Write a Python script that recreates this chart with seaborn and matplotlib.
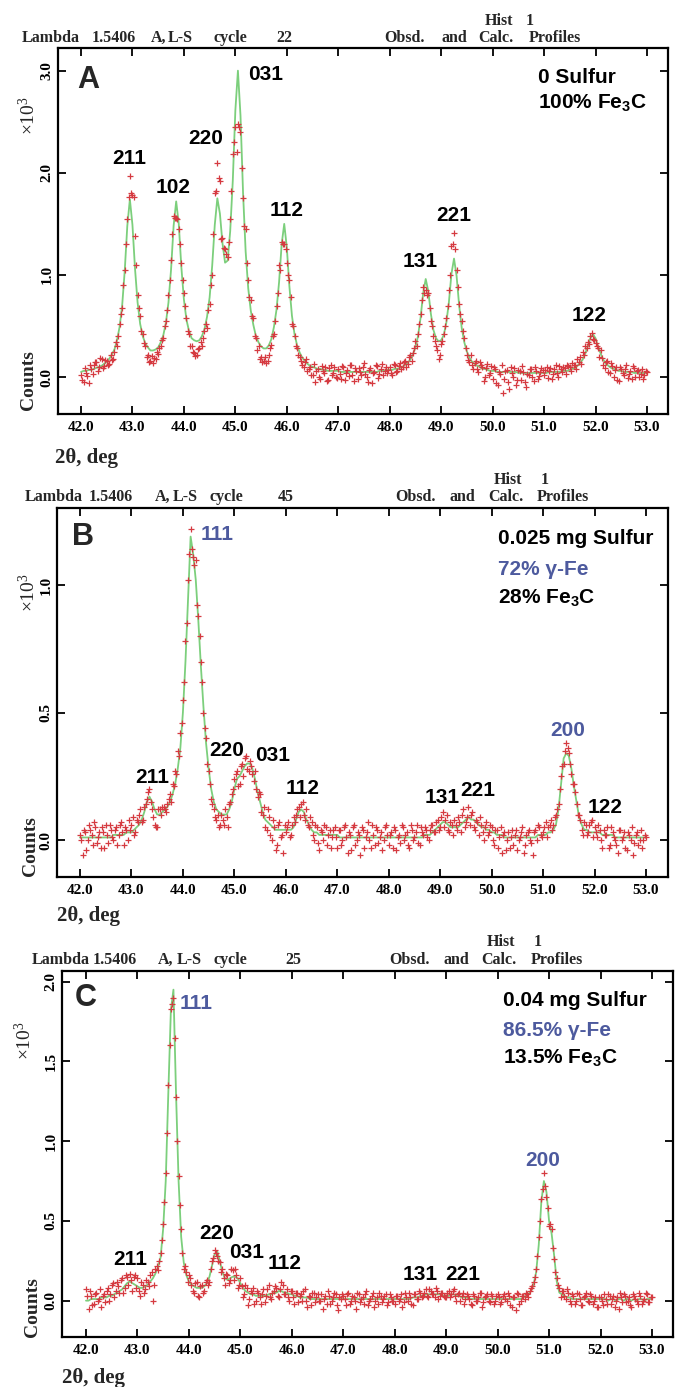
import numpy as np
import pandas as pd
import matplotlib
matplotlib.use("Agg")
import matplotlib.pyplot as plt
import seaborn as sns

# ---------------- data (intensity in units of 10^3 counts) ----------------
two_theta = np.round(42.0 + 0.05 * np.arange(221), 3)       # calc + observed grid
two_theta_mid = np.round(42.025 + 0.05 * np.arange(220), 3)  # observed, interleaved

calc_A = [
    .05, .06, .06, .07, .07, .08, .09, .10, .11, .13, .15, .18, .22, .27, .36, .49, .70, 1.04, 1.48, 1.74,
    1.49, 1.06, .73, .52, .40, .33, .29, .26, .26, .27, .29, .34, .41, .53, .73, 1.05, 1.48, 1.72, 1.50, 1.08,
    .76, .56, .45, .38, .36, .35, .36, .40, .47, .59, .78, 1.09, 1.49, 1.75, 1.60, 1.31, 1.12, 1.14, 1.43, 1.92,
    2.61, 3.00, 2.56, 1.80, 1.23, .87, .65, .51, .40, .34, .30, .28, .28, .31, .37, .49, .66, .93, 1.30, 1.50,
    1.27, .89, .60, .42, .31, .24, .19, .16, .13, .11, .10, .09, .08, .08, .07, .07, .06, .06, .06, .06,
    .06, .05, .05, .05, .05, .05, .05, .05, .05, .05, .05, .05, .05, .05, .05, .05, .06, .06, .06, .07,
    .07, .07, .08, .08, .09, .10, .12, .14, .17, .22, .29, .40, .58, .82, .96, .84, .62, .46, .38, .35,
    .36, .41, .53, .73, 1.01, 1.16, .99, .70, .48, .34, .25, .19, .15, .13, .11, .10, .08, .08, .07, .06,
    .06, .06, .05, .05, .05, .05, .05, .05, .05, .05, .04, .04, .04, .04, .04, .04, .04, .04, .04, .04,
    .04, .04, .05, .05, .05, .05, .05, .06, .06, .06, .07, .08, .09, .11, .14, .17, .23, .30, .38, .42,
    .38, .30, .23, .17, .13, .11, .09, .08, .07, .06, .06, .05, .05, .05, .05, .04, .04, .04, .04, .04,
    .04]
obs_A = [
    .02, -.05, .04, -.06, .08, .12, .15, .10, .18, .11, .16, .13, .17, .25, .30, .52, .68, 1.05, 1.55, 1.97,
    1.78, 1.38, .80, .60, .42, .30, .22, .16, .14, .18, .23, .30, .38, .55, .80, 1.15, 1.58, 1.56, 1.45, 1.12,
    .82, .58, .42, .30, .24, .22, .28, .30, .45, .48, .72, 1.00, 1.80, 2.10, 1.92, 1.36, 1.25, 1.18, 1.55, 2.18,
    2.45, 2.48, 2.40, 1.75, 1.45, .95, .75, .58, .38, .30, .20, .16, .14, .22, .31, .42, .70, 1.10, 1.32, 1.30,
    1.12, .95, .52, .40, .28, .20, .12, .15, .06, .10, .02, -.05, .08, -.02, .06, .10, -.03, .12, .04, .00,
    .08, -.02, .10, .04, .01, .12, -.04, .06, .09, .02, .14, .00, .07, -.06, .05, .11, .03, .13, .06, .04,
    .10, .02, .12, .06, .14, .10, .16, .13, .22, .24, .35, .42, .62, .88, .85, .82, .55, .40, .30, .18,
    .32, .42, .58, .85, 1.28, 1.41, 1.05, .72, .55, .38, .22, .15, .12, .14, .08, .15, .10, .00, .13, .04,
    -.02, .08, -.08, .03, -.16, .06, -.05, .10, .00, -.08, .07, -.03, .05, -.10, .02, .08, -.04, .06, .01, .09,
    .02, .10, .06, -.02, .08, .04, .11, .05, .09, .12, .10, .14, .12, .18, .20, .25, .30, .34, .40, .37,
    .33, .28, .26, .12, .15, .05, .14, .00, .10, -.04, .08, .02, .12, .03, -.02, .09, .06, .00, .08, .02,
    .05]
obs_mid_A = [
    -.03, .09, .01, .12, .03, .15, .06, .19, .09, .17, .12, .22, .18, .34, .40, .62, .90, 1.30, 1.76, 1.80,
    1.76, 1.10, .68, .45, .33, .20, .15, .21, .19, .25, .28, .36, .50, .66, .95, 1.40, 1.56, 1.55, 1.30, .95,
    .70, .45, .30, .25, .21, .27, .34, .38, .52, .66, .90, 1.40, 1.82, 1.95, 1.35, 1.26, 1.20, 1.32, 1.82, 2.30,
    2.20, 2.45, 2.05, 1.48, 1.12, .78, .60, .40, .26, .18, .15, .20, .16, .28, .40, .55, .82, 1.05, 1.30, 1.25,
    1.00, .78, .50, .30, .22, .16, .10, .18, .08, .02, .13, .06, .00, .11, .04, -.04, .09, .02, .10, -.01,
    .03, .11, -.03, .07, .12, .02, .09, -.02, .05, .10, .03, -.05, .09, .04, .12, -.01, .08, .02, .10, .07,
    .04, .13, .05, .11, .08, .15, .10, .20, .16, .28, .30, .52, .75, .82, .80, .68, .50, .35, .26, .22,
    .35, .50, .70, 1.00, 1.30, 1.25, .88, .62, .45, .28, .17, .22, .08, .16, .05, .12, -.04, .09, .02, .11,
    .10, -.06, .05, .12, -.02, .07, -.12, .04, .09, -.03, .06, .11, -.05, .03, .08, .00, .10, -.02, .05, .07,
    .07, -.01, .09, .03, .12, .00, .08, .10, .03, .11, .06, .12, .08, .15, .13, .22, .28, .32, .43, .36,
    .30, .20, .19, .09, .16, .04, .11, .07, -.03, .10, .04, .08, -.01, .06, .11, .00, .07, .03, -.02, .06]

calc_B = [
    .01, .01, .01, .01, .01, .01, .01, .01, .01, .01, .01, .01, .01, .02, .02, .02, .02, .02, .03, .03,
    .03, .04, .05, .06, .08, .11, .15, .17, .15, .12, .10, .10, .11, .12, .13, .15, .18, .22, .28, .36,
    .50, .70, .95, 1.19, 1.12, 1.02, .86, .68, .52, .38, .28, .20, .15, .12, .11, .10, .10, .10, .12, .15,
    .20, .24, .25, .27, .29, .30, .30, .28, .24, .19, .15, .11, .08, .07, .06, .05, .04, .04, .04, .04,
    .04, .04, .04, .05, .08, .11, .12, .11, .08, .06, .04, .03, .03, .02, .02, .02, .02, .02, .02, .02,
    .02, .01, .01, .01, .01, .01, .01, .01, .01, .01, .01, .01, .01, .01, .01, .01, .01, .01, .01, .01,
    .01, .01, .01, .01, .01, .01, .01, .01, .01, .01, .01, .01, .01, .01, .02, .02, .02, .03, .04, .05,
    .06, .07, .07, .06, .05, .05, .05, .05, .06, .07, .08, .09, .08, .08, .07, .06, .05, .05, .04, .04,
    .03, .03, .02, .02, .02, .01, .01, .01, .01, .01, .01, .01, .01, .01, .01, .01, .01, .01, .02, .02,
    .02, .02, .03, .03, .04, .06, .12, .22, .32, .34, .33, .28, .21, .15, .09, .06, .04, .04, .03, .03,
    .03, .03, .03, .02, .02, .02, .02, .02, .01, .01, .01, .01, .01, .01, .01, .01, .01, .01, .01, .01,
    .01]
obs_B = [
    .02, -.06, .03, .00, .04, -.02, .05, .01, -.03, .03, .06, -.01, .04, .00, .05, .02, .07, -.02, .04, .08,
    .06, .02, .08, .10, .07, .13, .16, .20, .12, .06, .05, .12, .13, .12, .14, .18, .22, .27, .35, .42,
    .55, .78, 1.02, 1.22, 1.11, 1.10, .88, .70, .50, .40, .27, .16, .12, .08, .05, .10, .06, .09, .14, .18,
    .24, .27, .22, .30, .32, .28, .31, .26, .27, .17, .18, .10, .05, .12, .02, .08, -.04, .06, .01, -.05,
    .03, .07, .02, .09, .10, .13, .14, .10, .12, .05, .07, .00, .05, -.04, .03, .06, -.02, .04, .01, .05,
    -.03, .04, .00, .06, -.05, .02, .05, -.02, .03, -.06, .04, .01, .07, -.03, .02, .05, -.01, .03, .00, .06,
    -.02, .03, .05, -.04, .02, .06, .00, .03, -.03, .04, .01, .06, -.02, .03, .05, .01, .04, .06, .03, .08,
    .05, .11, .08, .04, .07, .02, .06, .09, .03, .12, .07, .13, .10, .05, .08, .02, .06, .00, .07, .03,
    .05, -.02, .04, .01, -.05, .03, .00, -.03, .04, .02, -.04, .01, .05, -.02, .03, .00, -.06, .04, .06, .02,
    .03, .07, .05, .08, .06, .10, .14, .25, .30, .38, .34, .26, .22, .14, .10, .04, .07, .02, .06, .08,
    .05, .01, .04, -.03, .02, .05, -.02, .03, .00, -.05, .04, .01, -.03, .03, .00, -.06, .02, -.02, .04, .00,
    .01]
obs_mid_B = [
    .00, .04, -.04, .06, .02, .07, -.01, .03, .05, -.03, .02, .06, .01, .04, -.02, .06, .03, .05, .00, .04,
    .09, .03, .07, .12, .08, .14, .19, .15, .09, .05, .12, .10, .13, .11, .16, .15, .21, .26, .33, .46,
    .62, .85, 1.12, 1.14, 1.08, .92, .80, .62, .44, .30, .22, .14, .09, .10, .06, .08, .12, .05, .15, .20,
    .26, .21, .29, .25, .33, .27, .29, .23, .20, .19, .11, .13, .04, .09, .00, .05, -.02, .07, .02, .06,
    .05, .01, .06, .07, .12, .09, .15, .08, .06, .09, .02, .06, -.01, .04, .00, .05, .02, -.03, .04, .01,
    .04, -.02, .05, .01, .03, -.04, .06, .00, .02, .05, -.03, .03, .00, .06, -.02, .04, .01, -.04, .05, .02,
    .02, -.03, .04, .01, -.01, .05, .02, -.02, .06, .00, .03, -.01, .05, .02, .04, .00, .06, .03, .07, .04,
    .09, .05, .10, .03, .06, .08, .04, .07, .10, .05, .09, .06, .11, .04, .07, .09, .03, .05, .02, .06,
    .00, .04, -.03, .05, .02, -.04, .03, .01, -.02, .04, .00, .03, -.05, .02, .04, -.01, .03, .00, .05, .01,
    .05, .01, .06, .04, .09, .12, .20, .29, .35, .36, .30, .22, .19, .10, .08, .02, .06, .03, .07, .01,
    .03, .06, .00, .04, .02, -.03, .05, .01, -.02, .04, .00, .03, -.04, .02, .05, -.01, .03, .00, -.03, .02]

calc_C = [
    .00, .00, .01, .01, .01, .01, .02, .02, .02, .03, .03, .04, .05, .06, .07, .09, .11, .12, .11, .10,
    .09, .08, .08, .09, .10, .12, .14, .17, .21, .27, .45, .75, 1.30, 1.82, 1.95, 1.30, .75, .40, .24, .16,
    .12, .10, .09, .08, .08, .08, .09, .11, .15, .22, .29, .31, .25, .18, .14, .13, .14, .15, .15, .14,
    .11, .08, .06, .05, .04, .04, .03, .03, .03, .03, .03, .04, .04, .05, .05, .06, .06, .05, .05, .04,
    .04, .03, .03, .02, .02, .02, .02, .01, .01, .01, .01, .01, .01, .01, .01, .01, .01, .01, .01, .01,
    .01, .01, .01, .01, .01, .01, .01, .01, .01, .01, .01, .01, .01, .01, .01, .01, .01, .01, .01, .01,
    .01, .01, .01, .01, .01, .01, .01, .02, .02, .02, .03, .03, .04, .04, .04, .04, .04, .04, .04, .03,
    .03, .03, .04, .04, .03, .03, .02, .02, .02, .01, .01, .01, .01, .01, .01, .01, .01, .01, .01, .01,
    .01, .01, .01, .01, .01, .01, .01, .01, .01, .01, .02, .03, .04, .06, .10, .18, .35, .62, .75, .68,
    .50, .42, .28, .12, .05, .04, .03, .02, .02, .01, .01, .01, .01, .01, .01, .01, .01, .01, .01, .01,
    .01, .01, .01, .00, .01, .01, .00, .01, .01, .00, .01, .01, .00, .01, .00, .01, .01, .00, .01, .01,
    .01]
obs_C = [
    .07, -.05, .03, -.02, .05, .01, -.04, .04, .06, .00, .10, .02, .12, .05, .14, .08, .15, .17, .06, .16,
    .14, .03, .10, .07, .12, .16, .00, .20, .19, .30, .48, .80, 1.35, 1.83, 1.90, 1.28, .78, .45, .20, .18,
    .16, .10, .05, .12, .02, .10, .06, .13, .12, .25, .32, .28, .24, .20, .10, .16, .13, .19, .20, .08,
    .14, .02, .10, -.03, .06, .08, .00, .05, -.02, .07, .03, .10, .01, .06, .08, .02, .12, .04, .07, .00,
    .06, -.02, .05, .03, .00, .07, -.04, .02, .05, -.01, .04, .00, -.05, .03, .06, -.02, .02, .04, -.06, .01,
    .03, -.03, .05, .00, .02, -.05, .04, .01, -.02, .06, .00, .03, -.04, .02, .05, -.01, .03, -.03, .04, .00,
    -.02, .03, .01, -.04, .05, .00, .02, -.03, .04, .01, .05, .03, .07, .02, .06, .04, .08, .01, .05, .03,
    .02, .06, .04, .07, .00, .05, .03, -.02, .04, .01, -.03, .03, .00, .05, -.04, .02, .04, -.01, .03, .00,
    .04, -.02, .03, .01, .05, -.03, .02, -.06, .04, .00, .03, .05, .02, .08, .12, .20, .40, .64, .80, .65,
    .47, .45, .26, .14, .08, .06, .03, .07, .00, .04, -.02, .05, .01, -.03, .03, .00, .04, -.02, .02, -.04,
    .02, -.03, .01, .04, -.02, .03, .00, -.05, .02, .04, -.01, .02, -.04, .03, .00, .05, -.02, .01, .04, -.01,
    .02]
obs_mid_C = [
    .03, .06, -.03, .04, .00, .07, .03, -.01, .08, .04, .11, .06, .09, .13, .05, .16, .10, .13, .15, .08,
    .06, .12, .05, .13, .09, .18, .10, .22, .25, .38, .62, 1.05, 1.60, 1.86, 1.65, 1.00, .60, .30, .22, .12,
    .14, .06, .11, .03, .09, .05, .12, .10, .20, .27, .30, .25, .18, .14, .17, .11, .20, .13, .16, .10,
    .09, .04, .08, .01, .05, -.02, .06, .02, .04, -.01, .07, .02, .05, .09, .03, .07, .10, .04, .02, .06,
    .02, .05, -.01, .04, .06, .00, .03, -.03, .05, .02, .00, .04, .01, -.02, .03, .00, .05, -.03, .02, .04,
    .01, .04, -.02, .03, .00, .05, -.01, .02, .04, -.03, .01, .05, .00, -.02, .03, .01, .04, -.01, .02, .00,
    .03, .00, .04, -.01, .02, .05, -.02, .04, .01, .06, .02, .05, .03, .07, .04, .02, .06, .03, .05, .02,
    .05, .02, .06, .03, .04, .00, .05, .01, .03, -.02, .04, .00, .02, .05, -.01, .03, .00, .04, -.02, .03,
    .02, -.01, .04, .00, .03, -.04, .02, .05, -.02, .03, .01, .04, .06, .09, .15, .28, .50, .70, .72, .58,
    .48, .33, .18, .10, .02, .06, .01, .05, -.02, .03, .00, .04, -.03, .02, .05, -.01, .03, .00, -.04, .02,
    .00, .04, -.02, .03, .01, -.04, .02, .05, -.01, .03, .00, -.03, .04, .01, -.02, .03, .00, .05, -.01, .02]

x_ticks = [42, 43, 44, 45, 46, 47, 48, 49, 50, 51, 52, 53]
y_ticks_A = [0.0, 1.0, 2.0, 3.0]
y_ticks_B = [0.0, 0.5, 1.0]
y_ticks_C = [0.0, 0.5, 1.0, 1.5, 2.0]

peaks_A = ["211", "102", "220", "031", "112", "131", "221", "122"]
peak_x_A = [42.93, 43.79, 44.43, 45.58, 46.00, 48.59, 49.25, 51.87]
peak_y_A = [2.14, 1.86, 2.34, 2.96, 1.63, 1.13, 1.58, 0.60]
peak_gamma_A = [False] * 8

peaks_B = ["111", "211", "220", "031", "112", "131", "221", "200", "122"]
peak_x_B = [44.66, 43.40, 44.86, 45.75, 46.33, 49.04, 49.74, 51.47, 52.20]
peak_y_B = [1.20, 0.247, 0.353, 0.333, 0.204, 0.165, 0.196, 0.431, 0.129]
peak_gamma_B = [True, False, False, False, False, False, False, True, False]

peaks_C = ["111", "211", "220", "031", "112", "131", "221", "200"]
peak_x_C = [44.14, 42.855, 44.546, 45.13, 45.87, 48.49, 49.33, 50.88]
peak_y_C = [1.866, 0.255, 0.424, 0.30, 0.236, 0.167, 0.167, 0.876]
peak_gamma_C = [True, False, False, False, False, False, False, True]

comp_A = ["0 Sulfur", "100% Fe$_3$C"]
comp_B = ["0.025 mg Sulfur", "72% γ-Fe", "28% Fe$_3$C"]
comp_C = ["0.04 mg Sulfur", "86.5% γ-Fe", "13.5% Fe$_3$C"]
cycles = ["22", "45", "25"]
panel_letters = ["A", "B", "C"]

# ---------------- style ----------------
sns.set_theme(style="ticks")
plt.rcParams["font.family"] = ["Liberation Serif", "DejaVu Serif"]
plt.rcParams["mathtext.default"] = "regular"

CALC = "#7ccf7c"
OBS = "#d53a40"
BLUE = "#4d5a9e"
SANS = ["Liberation Sans", "DejaVu Sans"]
W, H = 676, 1387

fig = plt.figure(figsize=(W / 100, H / 100), dpi=100)


def fx(px):
    return px / W


def fy(py):
    return 1 - py / H


panels = [
    dict(box=(58, 48, 668, 414), xlim=(41.553, 53.409), ylim=(-0.362, 3.222),
         calc=calc_A, obs=obs_A, obs_mid=obs_mid_A, yt=y_ticks_A,
         peaks=peaks_A, px=peak_x_A, py=peak_y_A,
         pg=peak_gamma_A, comp=comp_A, comp_x=50.88, comp_y=[2.93, 2.68],
         letter=(41.92, 2.91),
         hdr_x=[22, 92, 151, 168, 213], cyc_x=276, right_x=[384, 442, 478, 529],
         hist_x=[485, 526], hdr_y=38, hist_y=21,
         xlab=(55, 458), e3=(28, 116), counts=(28, 380)),
    dict(box=(57, 508, 668, 877), xlim=(41.553, 53.428), ylim=(-0.145, 1.302),
         calc=calc_B, obs=obs_B, obs_mid=obs_mid_B, yt=y_ticks_B,
         peaks=peaks_B, px=peak_x_B, py=peak_y_B,
         pg=peak_gamma_B, comp=comp_B, comp_x=50.12, comp_y=[1.184, 1.059, 0.949],
         letter=(41.845, 1.188),
         hdr_x=[25, 89, 155, 173, 209], cyc_x=278, right_x=[395, 450, 488, 537],
         hist_x=[494, 541], hdr_y=497, hist_y=480,
         xlab=(57, 916), e3=(28, 593), counts=(30, 846)),
    dict(box=(62, 971, 673, 1337), xlim=(41.534, 53.409), ylim=(-0.228, 2.067),
         calc=calc_C, obs=obs_C, obs_mid=obs_mid_C, yt=y_ticks_C,
         peaks=peaks_C, px=peak_x_C, py=peak_y_C,
         pg=peak_gamma_C, comp=comp_C, comp_x=50.105, comp_y=[1.885, 1.697, 1.522],
         letter=(41.79, 1.898),
         hdr_x=[32, 93, 158, 177, 213], cyc_x=285, right_x=[389, 444, 481, 531],
         hist_x=[487, 534], hdr_y=960, hist_y=942,
         xlab=(62, 1378), e3=(25, 1041), counts=(32, 1307)),
]

hdr_words = ["Lambda", "1.5406", "A,", "L-S", "cycle"]
right_words = ["Obsd.", "and", "Calc.", "Profiles"]
hist_words = ["Hist", "1"]

for i, p in enumerate(panels):
    l, t, r, b = p["box"]
    ax = fig.add_axes([fx(l), fy(b), (r - l) / W, (b - t) / H])
    df_calc = pd.DataFrame({"two_theta": two_theta, "calc": p["calc"]})
    df_obs = pd.DataFrame({
        "two_theta": np.concatenate([two_theta, two_theta_mid]),
        "obs": list(p["obs"]) + list(p["obs_mid"]),
    })
    sns.lineplot(data=df_calc, x="two_theta", y="calc", ax=ax, color=CALC,
                 linewidth=1.3, zorder=2)
    sns.scatterplot(data=df_obs, x="two_theta", y="obs", ax=ax, marker="+", s=18,
                    color=OBS, linewidth=0.9, zorder=3)
    ax.set_xlim(*p["xlim"])
    ax.set_ylim(*p["ylim"])
    ax.set_xticks(x_ticks)
    ax.set_xticklabels([f"{v:.1f}" for v in x_ticks], fontsize=11, fontweight="bold")
    ax.set_yticks(p["yt"])
    ax.set_yticklabels([f"{v:.1f}" for v in p["yt"]], fontsize=11, fontweight="bold",
                       rotation=90, va="center")
    ax.set_xlabel("")
    ax.set_ylabel("")
    ax.tick_params(direction="in", length=6, width=1.3, top=True, right=True,
                   bottom=True, left=True, colors="black")
    ax.tick_params(axis="x", pad=5)
    ax.tick_params(axis="y", pad=3)
    for s in ax.spines.values():
        s.set_visible(True)
        s.set_linewidth(1.6)
        s.set_color("black")

    for lab, x, y, g in zip(p["peaks"], p["px"], p["py"], p["pg"]):
        ax.text(x, y, lab, ha="center", va="center", fontsize=15, fontweight="bold",
                family=SANS, color=BLUE if g else "black", zorder=5)
    for txt, y in zip(p["comp"], p["comp_y"]):
        col = BLUE if "γ" in txt else "black"
        ax.text(p["comp_x"], y, txt, ha="left", va="center", fontsize=15,
                fontweight="bold", family=SANS, color=col, zorder=5)
    ax.text(p["letter"][0], p["letter"][1], panel_letters[i], ha="left", va="center",
            fontsize=22, fontweight="bold", family=SANS, zorder=5)

    for w, x in zip(hdr_words, p["hdr_x"]):
        fig.text(fx(x), fy(p["hdr_y"]), w, ha="left", va="center", fontsize=11.5, fontweight="bold")
    fig.text(fx(p["cyc_x"]), fy(p["hdr_y"]), cycles[i], ha="left", va="center",
             fontsize=11.5, fontweight="bold")
    for w, x in zip(right_words, p["right_x"]):
        fig.text(fx(x), fy(p["hdr_y"]), w, ha="left", va="center", fontsize=11.5, fontweight="bold")
    for w, x in zip(hist_words, p["hist_x"]):
        fig.text(fx(x), fy(p["hist_y"]), w, ha="left", va="center", fontsize=11.5, fontweight="bold")

    fig.text(fx(p["xlab"][0]), fy(p["xlab"][1]), "2θ, deg", ha="left", va="center",
             fontsize=15, fontweight="bold")
    fig.text(fx(p["e3"][0]), fy(p["e3"][1]), "×10$^3$", ha="center", va="center",
             rotation=90, fontsize=14)
    fig.text(fx(p["counts"][0]), fy(p["counts"][1]), "Counts", ha="center", va="center",
             rotation=90, fontsize=14, fontweight="bold")

fig.savefig("out.png", dpi=100)
